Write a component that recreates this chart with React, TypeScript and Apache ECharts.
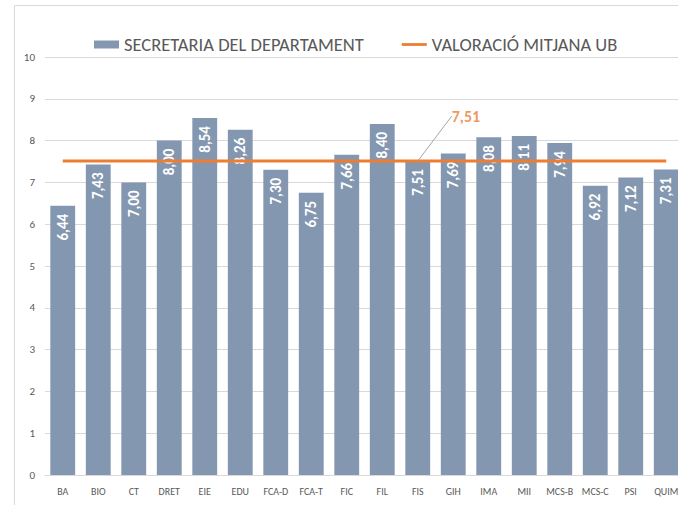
import React, { useEffect, useRef } from "react";
import * as echarts from "echarts";

const categories = ["BA", "BIO", "CT", "DRET", "EIE", "EDU", "FCA-D", "FCA-T", "FIC", "FIL", "FIS", "GIH", "IMA", "MII", "MCS-B", "MCS-C", "PSI", "QUIM"];
const secretariaValues = [6.44, 7.43, 7.0, 8.0, 8.54, 8.26, 7.3, 6.75, 7.66, 8.4, 7.51, 7.69, 8.08, 8.11, 7.94, 6.92, 7.12, 7.31];
const ubAverage = 7.51;
const annotatedCategory = "FIS";
const yTicks = { min: 0, max: 10, interval: 1 };

const BAR_NAME = "SECRETARIA DEL DEPARTAMENT";
const LINE_NAME = "VALORACIÓ MITJANA UB";
const FONT = "Carlito, 'Liberation Sans Narrow', 'Open Sans', sans-serif";

const fmt = (v: number) => v.toFixed(2).replace(".", ",");

export default function App() {
  const ref = useRef<HTMLDivElement>(null);
  useEffect(() => {
    if (!ref.current) return;
    const chart = echarts.init(ref.current, undefined, { renderer: "svg" });
    chart.setOption({
      animation: false,
      backgroundColor: "#fff",
      textStyle: { fontFamily: FONT },
      graphic: [
        {
          type: "rect",
          shape: { x: 14.5, y: 5.5, width: 720, height: 540 },
          style: { fill: "none", stroke: "#D9D9D9", lineWidth: 1 },
          silent: true,
          z: -1,
        },
      ],
      legend: {
        left: 94,
        top: 35,
        padding: 0,
        itemWidth: 25,
        itemHeight: 8,
        itemGap: 38,
        textStyle: { color: "#595959", fontSize: 18.5, fontFamily: FONT },
        data: [
          { name: BAR_NAME, icon: "rect" },
          { name: LINE_NAME, icon: "path://M0 0H27V3H0Z" },
        ],
      },
      grid: { left: 45, right: 16, top: 57, bottom: 30 },
      xAxis: {
        type: "category",
        data: categories,
        boundaryGap: true,
        axisLine: { lineStyle: { color: "#D9D9D9" } },
        axisTick: { show: false },
        axisLabel: { color: "#595959", fontSize: 10, margin: 11, interval: 0, fontFamily: FONT },
      },
      yAxis: {
        type: "value",
        min: yTicks.min,
        max: yTicks.max,
        interval: yTicks.interval,
        axisLine: { show: false },
        axisTick: { show: false },
        splitLine: { lineStyle: { color: "#D9D9D9" } },
        axisLabel: { color: "#595959", fontSize: 11, margin: 10, fontFamily: FONT },
      },
      series: [
        {
          name: BAR_NAME,
          type: "bar",
          data: secretariaValues,
          barCategoryGap: "30%",
          itemStyle: { color: "#8497B0" },
          label: {
            show: true,
            position: "insideTop",
            rotate: 90,
            align: "right",
            verticalAlign: "middle",
            distance: 8,
            color: "#fff",
            fontSize: 15,
            fontWeight: "bold",
            fontFamily: FONT,
            formatter: (p: any) => fmt(p.value),
          },
          z: 2,
        },
        {
          name: LINE_NAME,
          type: "line",
          data: categories.map(() => ubAverage),
          symbol: "none",
          lineStyle: { color: "#ED7D31", width: 3 },
          itemStyle: { color: "#ED7D31" },
          z: 3,
        },
        {
          name: "annotation",
          type: "scatter",
          data: [[annotatedCategory, ubAverage]],
          symbolSize: 0,
          label: {
            show: true,
            position: "right",
            distance: 4,
            formatter: (p: any) => fmt(p.value[1]),
            color: "#ED7D31",
            fontSize: 16,
            fontWeight: "bold",
            fontFamily: FONT,
          },
          labelLayout: { dx: 30, dy: -45 },
          labelLine: { show: true, length2: 6, lineStyle: { color: "#A6A6A6", width: 1 } },
          z: 4,
        },
      ],
    });
    return () => chart.dispose();
  }, []);
  return (
    <div style={{ position: "fixed", left: 0, top: 0, width: 678, height: 505, overflow: "hidden", background: "#fff" }}>
      <div ref={ref} style={{ width: 700, height: 505 }} />
    </div>
  );
}
